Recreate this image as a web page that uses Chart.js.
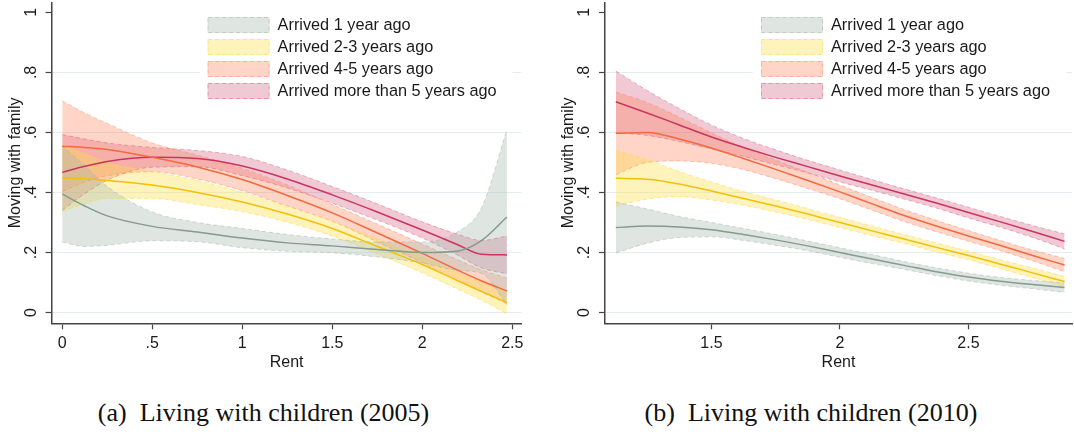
<!DOCTYPE html>
<html>
<head>
<meta charset="utf-8">
<script src="https://cdn.jsdelivr.net/npm/chart.js@4.4.1/dist/chart.umd.min.js"></script>
<style>
  body { margin: 0; background: #fff; width: 1074px; height: 434px; position: relative; overflow: hidden; }
  .panel { position: absolute; top: 0; height: 380px; }
  #left { left: 0; width: 540px; }
  #right { left: 540px; width: 534px; }
  .caption { position: absolute; top: 398px; line-height: 30px; font-family: "Liberation Serif", "DejaVu Serif", serif; font-size: 26px; color: #111; white-space: nowrap; transform: translateX(-50%); }
</style>
</head>
<body>
<div class="panel" id="left"><canvas id="c1" width="540" height="380"></canvas></div>
<div class="panel" id="right"><canvas id="c2" width="534" height="380"></canvas></div>
<div class="caption" style="left:263.5px">(a)&nbsp; Living with children (2005)</div>
<div class="caption" style="left:811px">(b)&nbsp; Living with children (2010)</div>
<script>
// legend / tick labels
const legendLabels = ['Arrived 1 year ago', 'Arrived 2-3 years ago', 'Arrived 4-5 years ago', 'Arrived more than 5 years ago'];
const yTickValues = [0, 0.2, 0.4, 0.6, 0.8, 1];
const yTickLabels = ['0', '.2', '.4', '.6', '.8', '1'];
const leftXTickValues = [0, 0.5, 1, 1.5, 2, 2.5];
const leftXTickLabels = ['0', '.5', '1', '1.5', '2', '2.5'];
const rightXTickValues = [1.5, 2, 2.5];
const rightXTickLabels = ['1.5', '2', '2.5'];

// panel (a) 2005: rent grid and fitted values with CI
const rent2005 = [0, 0.125, 0.25, 0.5, 0.75, 1, 1.25, 1.5, 1.75, 2, 2.2, 2.33, 2.47];
const a1Mid = [0.395, 0.355, 0.322, 0.287, 0.268, 0.248, 0.232, 0.222, 0.21, 0.2, 0.205, 0.24, 0.318];
const a1Hi  = [0.555, 0.49, 0.42, 0.335, 0.30, 0.28, 0.26, 0.245, 0.235, 0.235, 0.27, 0.35, 0.61];
const a1Lo  = [0.235, 0.22, 0.224, 0.239, 0.236, 0.216, 0.204, 0.199, 0.185, 0.165, 0.14, 0.13, 0.026];
const a2Mid = [0.448, 0.446, 0.44, 0.425, 0.40, 0.368, 0.328, 0.28, 0.22, 0.16, 0.105, 0.07, 0.033];
const a2Hi  = [0.56, 0.53, 0.50, 0.47, 0.44, 0.40, 0.355, 0.305, 0.245, 0.188, 0.133, 0.1, 0.07];
const a2Lo  = [0.336, 0.362, 0.38, 0.38, 0.36, 0.336, 0.301, 0.255, 0.195, 0.132, 0.077, 0.04, -0.004];
const a3Mid = [0.554, 0.55, 0.543, 0.517, 0.485, 0.443, 0.39, 0.332, 0.265, 0.197, 0.14, 0.105, 0.072];
const a3Hi  = [0.705, 0.665, 0.63, 0.565, 0.525, 0.48, 0.425, 0.36, 0.295, 0.228, 0.175, 0.142, 0.115];
const a3Lo  = [0.403, 0.435, 0.456, 0.469, 0.445, 0.406, 0.355, 0.304, 0.235, 0.166, 0.105, 0.068, 0.029];
const a4Mid = [0.467, 0.487, 0.503, 0.517, 0.513, 0.488, 0.445, 0.392, 0.335, 0.275, 0.225, 0.194, 0.192];
const a4Hi  = [0.593, 0.578, 0.565, 0.55, 0.54, 0.52, 0.475, 0.42, 0.362, 0.302, 0.26, 0.24, 0.255];
const a4Lo  = [0.341, 0.396, 0.441, 0.484, 0.486, 0.456, 0.415, 0.364, 0.308, 0.248, 0.19, 0.148, 0.129];

// panel (b) 2010
const rent2010 = [1.128, 1.25, 1.375, 1.5, 1.625, 1.75, 1.875, 2.0, 2.125, 2.25, 2.375, 2.5, 2.625, 2.75, 2.874];
const b1Mid = [0.283, 0.288, 0.285, 0.276, 0.26, 0.242, 0.222, 0.2, 0.178, 0.157, 0.136, 0.118, 0.104, 0.093, 0.083];
const b1Hi  = [0.368, 0.345, 0.32, 0.3, 0.28, 0.26, 0.238, 0.216, 0.193, 0.17, 0.149, 0.131, 0.117, 0.107, 0.099];
const b1Lo  = [0.198, 0.231, 0.25, 0.252, 0.24, 0.224, 0.206, 0.184, 0.163, 0.144, 0.123, 0.105, 0.091, 0.079, 0.067];
const b2Mid = [0.447, 0.444, 0.428, 0.405, 0.38, 0.355, 0.328, 0.30, 0.272, 0.245, 0.217, 0.19, 0.161, 0.132, 0.103];
const b2Hi  = [0.54, 0.51, 0.47, 0.435, 0.403, 0.375, 0.346, 0.317, 0.288, 0.26, 0.232, 0.204, 0.176, 0.148, 0.12];
const b2Lo  = [0.354, 0.378, 0.386, 0.375, 0.357, 0.335, 0.31, 0.283, 0.256, 0.23, 0.202, 0.176, 0.146, 0.116, 0.086];
const b3Mid = [0.597, 0.6, 0.578, 0.548, 0.513, 0.477, 0.44, 0.402, 0.362, 0.323, 0.288, 0.255, 0.223, 0.19, 0.158];
const b3Hi  = [0.735, 0.70, 0.651, 0.599, 0.55, 0.508, 0.467, 0.425, 0.383, 0.343, 0.307, 0.273, 0.24, 0.208, 0.18];
const b3Lo  = [0.459, 0.50, 0.505, 0.497, 0.476, 0.446, 0.413, 0.379, 0.341, 0.303, 0.269, 0.237, 0.206, 0.172, 0.136];
const b4Mid = [0.702, 0.665, 0.625, 0.585, 0.55, 0.517, 0.486, 0.455, 0.425, 0.395, 0.365, 0.333, 0.302, 0.27, 0.237];
const b4Hi  = [0.805, 0.74, 0.68, 0.625, 0.58, 0.542, 0.507, 0.475, 0.443, 0.412, 0.382, 0.351, 0.32, 0.29, 0.262];
const b4Lo  = [0.599, 0.59, 0.57, 0.545, 0.52, 0.492, 0.465, 0.435, 0.407, 0.378, 0.348, 0.315, 0.284, 0.25, 0.212];

const lineColors = ['#869a8e', '#f2c00a', '#f26a3d', '#c9355f'];
const bandFills = ['rgba(165,185,175,0.36)', 'rgba(255,221,70,0.36)', 'rgba(255,125,85,0.32)', 'rgba(205,60,100,0.28)'];
const bandEdges = ['rgba(150,170,160,0.42)', 'rgba(250,210,60,0.45)', 'rgba(245,120,80,0.4)', 'rgba(200,60,100,0.36)'];

const FONT = '"Liberation Sans", Arial, sans-serif';
const TXT = '#1a1a1a';

function pts(xs, ys) {
    return xs.map((x, i) => ({x: x, y: ys[i]}));
}

function buildDatasets(xs, mids, his, los) {
    const sets = [];
    for (let k = 0; k < mids.length; k++) {
        sets.push({data: pts(xs, his[k]), fill: '+1', backgroundColor: bandFills[k], borderColor: bandEdges[k],
            borderWidth: 1, borderDash: [4, 3], pointRadius: 0, cubicInterpolationMode: 'monotone', order: 1});
        sets.push({data: pts(xs, los[k]), fill: false, borderColor: bandEdges[k],
            borderWidth: 1, borderDash: [4, 3], pointRadius: 0, cubicInterpolationMode: 'monotone', order: 1});
    }
    for (let k = 0; k < mids.length; k++) {
        sets.push({data: pts(xs, mids[k]), fill: false, borderColor: lineColors[k], borderWidth: 1.5,
            pointRadius: 0, cubicInterpolationMode: 'monotone', order: 0});
    }
    return sets;
}

// Stata style vertical y tick labels
const rotatedYTicks = {
    id: 'rotatedYTicks',
    afterDraw(chart) {
        const {ctx, chartArea} = chart;
        const y = chart.scales.y;
        ctx.save();
        ctx.font = '16px ' + FONT;
        ctx.fillStyle = TXT;
        ctx.textAlign = 'center';
        ctx.textBaseline = 'middle';
        yTickValues.forEach((v, i) => {
            ctx.save();
            ctx.translate(chartArea.left - 20, y.getPixelForValue(v));
            ctx.rotate(-Math.PI / 2);
            ctx.fillText(yTickLabels[i], 0, 0);
            ctx.restore();
        });
        ctx.restore();
    }
};

// legend inside the plot region, top right
const boxLegend = {
    id: 'boxLegend',
    afterDraw(chart) {
        const {ctx, chartArea} = chart;
        const x0 = chartArea.left;
        ctx.save();
        ctx.fillStyle = '#fff';
        ctx.fillRect(x0 + 148, 6, 313, 95);
        ctx.font = '16.3px ' + FONT;
        ctx.textBaseline = 'middle';
        ctx.textAlign = 'left';
        legendLabels.forEach((lab, k) => {
            const cy = 25 + 22 * k;
            ctx.fillStyle = bandFills[k];
            ctx.fillRect(x0 + 156, cy - 8, 62, 16);
            ctx.setLineDash([4, 3]);
            ctx.lineWidth = 1;
            ctx.strokeStyle = bandEdges[k];
            ctx.strokeRect(x0 + 156.5, cy - 7.5, 61, 15);
            ctx.setLineDash([]);
            ctx.fillStyle = TXT;
            ctx.fillText(lab, x0 + 226, cy + 1);
        });
        ctx.restore();
    }
};

function makeChart(id, xs, mids, his, los, xmin, xmax, xTicks, xLabels, padLeft, padRight) {
    return new Chart(document.getElementById(id), {
        type: 'line',
        data: {datasets: buildDatasets(xs, mids, his, los)},
        options: {
            responsive: false,
            animation: false,
            layout: {padding: {left: padLeft, right: padRight, top: 2.5, bottom: 0}},
            plugins: {
                legend: {display: false},
                tooltip: {enabled: false},
                filler: {drawTime: 'beforeDatasetsDraw'}
            },
            scales: {
                x: {
                    type: 'linear',
                    min: xmin,
                    max: xmax,
                    afterBuildTicks: s => { s.ticks = xTicks.map(v => ({value: v})); },
                    afterFit: s => { s.height = 56.7; },
                    grid: {drawOnChartArea: false, tickLength: 6, tickColor: '#444', tickWidth: 1.2},
                    border: {color: '#444', width: 1.5},
                    ticks: {
                        padding: 5,
                        color: TXT,
                        font: {family: FONT, size: 16},
                        maxRotation: 0,
                        callback: (v, i) => xLabels[i]
                    },
                    title: {display: true, text: 'Rent', color: TXT, font: {family: FONT, size: 16}, padding: {top: 0, bottom: 8}}
                },
                y: {
                    min: -0.036,
                    max: 1.033,
                    afterBuildTicks: s => { s.ticks = yTickValues.map(v => ({value: v})); },
                    afterFit: s => { s.width = 51.6; },
                    grid: {
                        color: c => (c.tick && c.tick.value === 1) ? 'rgba(0,0,0,0)' : '#e4eef1',
                        lineWidth: 1,
                        tickLength: 6,
                        tickColor: '#444',
                        tickWidth: 1.2
                    },
                    border: {color: '#444', width: 1.5},
                    ticks: {display: false},
                    title: {display: true, text: 'Moving with family', color: TXT, font: {family: FONT, size: 16}, padding: {top: 6, bottom: 0}}
                }
            }
        },
        plugins: [rotatedYTicks, boxLegend]
    });
}

makeChart('c1', rent2005, [a1Mid, a2Mid, a3Mid, a4Mid], [a1Hi, a2Hi, a3Hi, a4Hi], [a1Lo, a2Lo, a3Lo, a4Lo],
    -0.059, 2.552, leftXTickValues, leftXTickLabels, 0, 18.3);
makeChart('c2', rent2010, [b1Mid, b2Mid, b3Mid, b4Mid], [b1Hi, b2Hi, b3Hi, b4Hi], [b1Lo, b2Lo, b3Lo, b4Lo],
    1.086, 2.903, rightXTickValues, rightXTickLabels, 13.4, 2);
</script>
</body>
</html>
